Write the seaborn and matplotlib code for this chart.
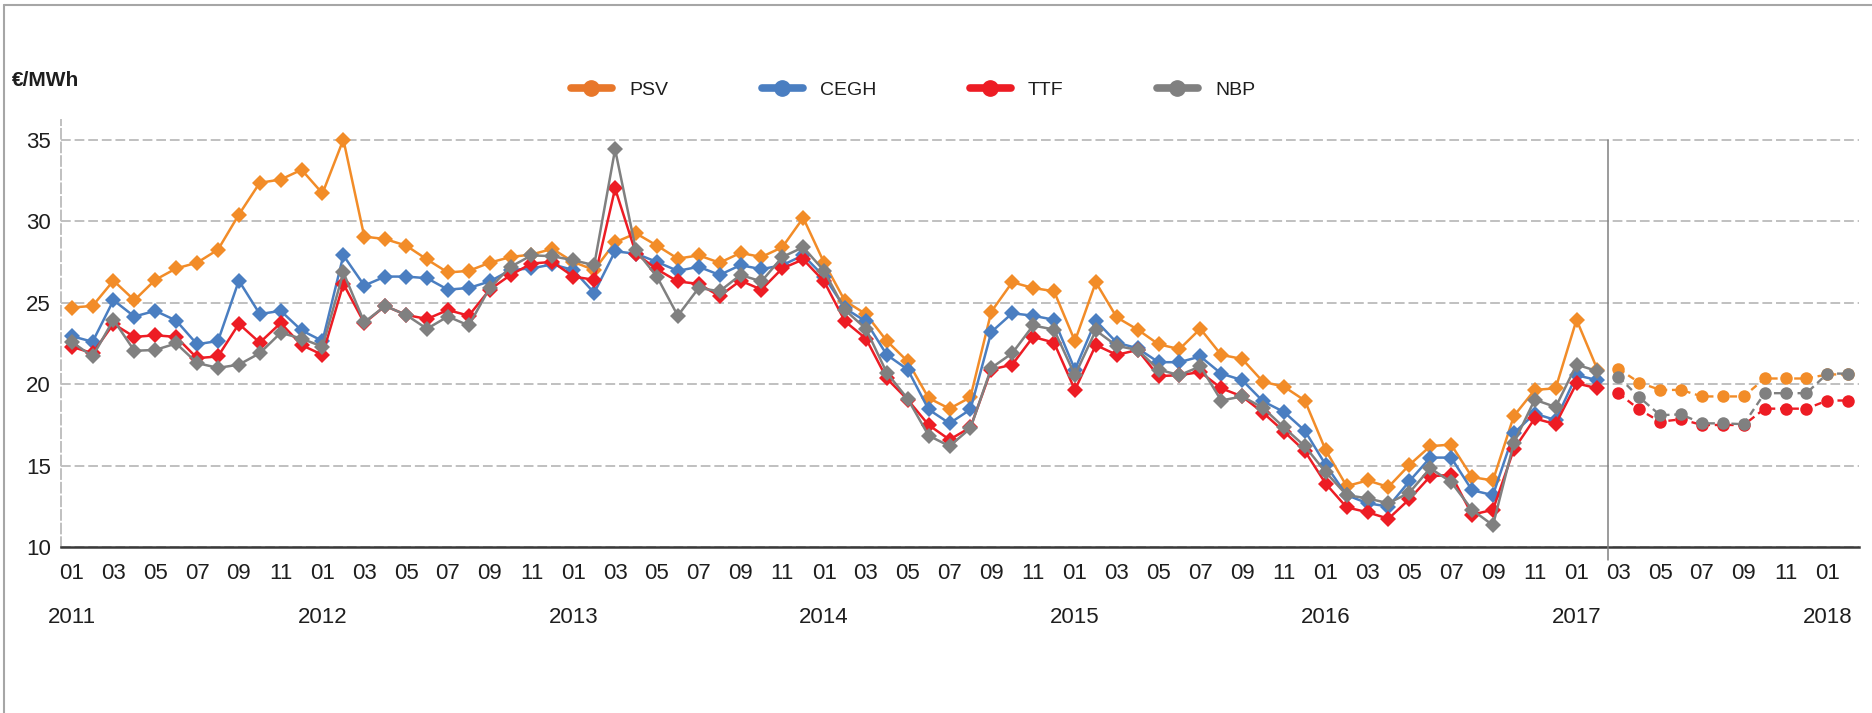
import numpy as np
import pandas as pd
import matplotlib
matplotlib.use('Agg')
from matplotlib import pyplot as plt
from matplotlib import transforms
from matplotlib.lines import Line2D
import seaborn as sns

# monthly prices, 2011-01 .. 2017-02 (EUR/MWh)
psv = [24.7, 24.8, 26.35, 25.15, 26.4, 27.1, 27.45, 28.25, 30.4, 32.35, 32.55, 33.15,
       31.7, 35.0, 29.05, 28.9, 28.5, 27.65, 26.85, 26.95, 27.45, 27.8, 27.95, 28.3,
       27.5, 27.0, 28.7, 29.25, 28.5, 27.7, 27.9, 27.45, 28.05, 27.8, 28.4, 30.2,
       27.45, 25.1, 24.3, 22.65, 21.4, 19.15, 18.5, 19.2, 24.45, 26.25, 25.9, 25.7,
       22.65, 26.25, 24.1, 23.35, 22.45, 22.15, 23.4, 21.8, 21.55, 20.15, 19.85, 19.0,
       15.95, 13.75, 14.1, 13.7, 15.05, 16.2, 16.3, 14.3, 14.1, 18.05, 19.65, 19.75,
       23.95, 20.9]
cegh = [22.95, 22.6, 25.15, 24.15, 24.5, 23.9, 22.45, 22.65, 26.35, 24.3, 24.5, 23.3,
        22.65, 27.9, 26.05, 26.6, 26.6, 26.5, 25.8, 25.9, 26.3, 27.0, 27.1, 27.35,
        27.0, 25.6, 28.15, 28.0, 27.5, 26.95, 27.2, 26.7, 27.3, 27.05, 27.3, 27.9,
        26.6, 24.65, 23.85, 21.8, 20.9, 18.45, 17.6, 18.45, 23.2, 24.35, 24.2, 23.95,
        20.9, 23.9, 22.55, 22.2, 21.35, 21.35, 21.7, 20.65, 20.25, 18.95, 18.3, 17.15,
        15.05, 13.2, 12.7, 12.5, 14.05, 15.5, 15.5, 13.5, 13.2, 17.0, 18.2, 17.8,
        20.55, 20.25]
ttf = [22.3, 21.9, 23.7, 22.9, 23.0, 22.9, 21.6, 21.7, 23.7, 22.55, 23.75, 22.4,
       21.8, 26.15, 23.75, 24.8, 24.25, 24.0, 24.55, 24.2, 25.8, 26.7, 27.4, 27.5,
       26.6, 26.4, 32.0, 28.0, 27.05, 26.3, 26.15, 25.4, 26.35, 25.8, 27.1, 27.65,
       26.3, 23.85, 22.8, 20.35, 19.05, 17.5, 16.6, 17.35, 20.9, 21.2, 22.9, 22.55,
       19.65, 22.4, 21.8, 22.1, 20.5, 20.55, 20.75, 19.75, 19.25, 18.25, 17.1, 15.9,
       13.9, 12.45, 12.15, 11.75, 12.95, 14.35, 14.45, 12.0, 12.3, 16.0, 17.9, 17.55,
       20.05, 19.75]
nbp = [22.6, 21.7, 23.95, 22.05, 22.1, 22.5, 21.3, 21.0, 21.2, 21.9, 23.15, 22.8,
       22.3, 26.85, 23.8, 24.8, 24.25, 23.4, 24.15, 23.6, 25.9, 27.2, 27.9, 27.85,
       27.6, 27.3, 34.4, 28.2, 26.6, 24.2, 25.9, 25.7, 26.7, 26.3, 27.8, 28.4,
       26.95, 24.55, 23.4, 20.7, 19.1, 16.85, 16.2, 17.3, 21.0, 21.9, 23.6, 23.35,
       20.55, 23.3, 22.35, 22.1, 20.9, 20.55, 21.1, 19.0, 19.25, 18.55, 17.35, 16.2,
       14.6, 13.2, 13.0, 12.7, 13.35, 14.85, 14.0, 12.3, 11.35, 16.4, 19.05, 18.6,
       21.2, 20.8]

# forward quotes, 2017-03 .. 2018-02
psv_fwd = [20.95, 20.1, 19.65, 19.65, 19.25, 19.25, 19.25, 20.35, 20.35, 20.35, 20.6, 20.6]
ttf_fwd = [19.45, 18.45, 17.7, 17.85, 17.5, 17.5, 17.5, 18.5, 18.5, 18.5, 19.0, 19.0]
nbp_fwd = [20.45, 19.2, 18.1, 18.15, 17.6, 17.6, 17.55, 19.45, 19.45, 19.45, 20.65, 20.65]

years = [2011, 2012, 2013, 2014, 2015, 2016, 2017, 2018]
hubs = ['PSV', 'CEGH', 'TTF', 'NBP']
colors = {'PSV': '#F28C28', 'CEGH': '#4A7EC1', 'TTF': '#ED1C24', 'NBP': '#808080'}
legend_colors = {'PSV': '#E8772A', 'CEGH': '#4A7EC1', 'TTF': '#ED1C24', 'NBP': '#808080'}

n_hist = len(psv)
n_all = n_hist + len(psv_fwd)

hist = pd.DataFrame({'m': range(n_hist), 'PSV': psv, 'CEGH': cegh, 'TTF': ttf, 'NBP': nbp})
fwd = pd.DataFrame({'m': range(n_hist, n_all), 'PSV': psv_fwd, 'TTF': ttf_fwd, 'NBP': nbp_fwd})

sns.set_style('white')
plt.rcParams['font.family'] = ['Liberation Sans', 'DejaVu Sans']
txt = '#1e1e1e'

fig = plt.figure(figsize=(18.72, 7.13), dpi=100)
ax = fig.add_axes([0.0327, 0.2324, 0.9602, 0.5993])

for h in hubs:
    sns.lineplot(data=hist, x='m', y=h, color=colors[h], marker='D', markersize=8.5,
                 markeredgewidth=0, linewidth=1.8, ax=ax)
for h in ['PSV', 'TTF', 'NBP']:
    sns.lineplot(data=fwd, x='m', y=h, color=colors[h], marker='o', markersize=9,
                 markeredgewidth=0, linewidth=1.7, linestyle=(0, (3, 2)), ax=ax)

# separator between history and forward
ax.plot([n_hist - 0.5, n_hist - 0.5], [9.2, 35], color='#808080', lw=1.1, clip_on=False, zorder=5)

ax.set_xlim(-0.5, n_all - 0.5)
ax.set_ylim(10, 36.2)
ax.set_xlabel('')
ax.set_ylabel('')

ax.set_yticks([10, 15, 20, 25, 30, 35])
ax.yaxis.grid(True, linestyle=(0, (5, 2)), color='#C0C0C0', linewidth=1.4)
ax.set_axisbelow(True)
ax.tick_params(axis='y', direction='inout', length=7, width=1.2, color='#BFBFBF',
               labelsize=16, labelcolor=txt, pad=4)

major = list(range(0, n_all - 1, 2))
ax.set_xticks(major)
ax.set_xticklabels(['%02d' % (i % 12 + 1) for i in major])
ax.set_xticks(np.arange(-0.5, n_all, 1), minor=True)
ax.tick_params(axis='x', which='major', length=0, pad=11, labelsize=16, labelcolor=txt)
ax.tick_params(axis='x', which='minor', direction='out', length=9.5, width=1.1, color='#333333')

trans = transforms.blended_transform_factory(ax.transData, ax.transAxes)
for k, y in enumerate(years):
    ax.text(k * 12, -0.165, str(y), transform=trans, ha='center', va='center',
            fontsize=16, color=txt)

for s in ['top', 'right']:
    ax.spines[s].set_visible(False)
ax.spines['left'].set_linestyle((0, (5, 2)))
ax.spines['left'].set_color('#C0C0C0')
ax.spines['left'].set_linewidth(1.4)
ax.spines['bottom'].set_color('#3a3a3a')
ax.spines['bottom'].set_linewidth(1.8)

fig.text(12 / 1872, 1 - 81 / 713, '€/MWh', ha='left', va='center', fontsize=15,
         fontweight='bold', color=txt)

handles = [Line2D([], [], color=legend_colors[h], lw=5.5, marker='o', markersize=11) for h in hubs]
fig.legend(handles, hubs, loc='center left', bbox_to_anchor=(571 / 1872, 1 - 90 / 713),
           ncol=4, frameon=False, fontsize=14, handlelength=2.1, handletextpad=0.9,
           columnspacing=4.8, borderpad=0, borderaxespad=0, labelcolor=txt)

# light frame around the picture
fig.add_artist(Line2D([4 / 1872, 4 / 1872], [0, 1 - 5 / 713], color='#A6A6A6', lw=1.5))
fig.add_artist(Line2D([4 / 1872, 1], [1 - 5 / 713, 1 - 5 / 713], color='#A6A6A6', lw=1.5))

fig.savefig('out.png', dpi=100)
